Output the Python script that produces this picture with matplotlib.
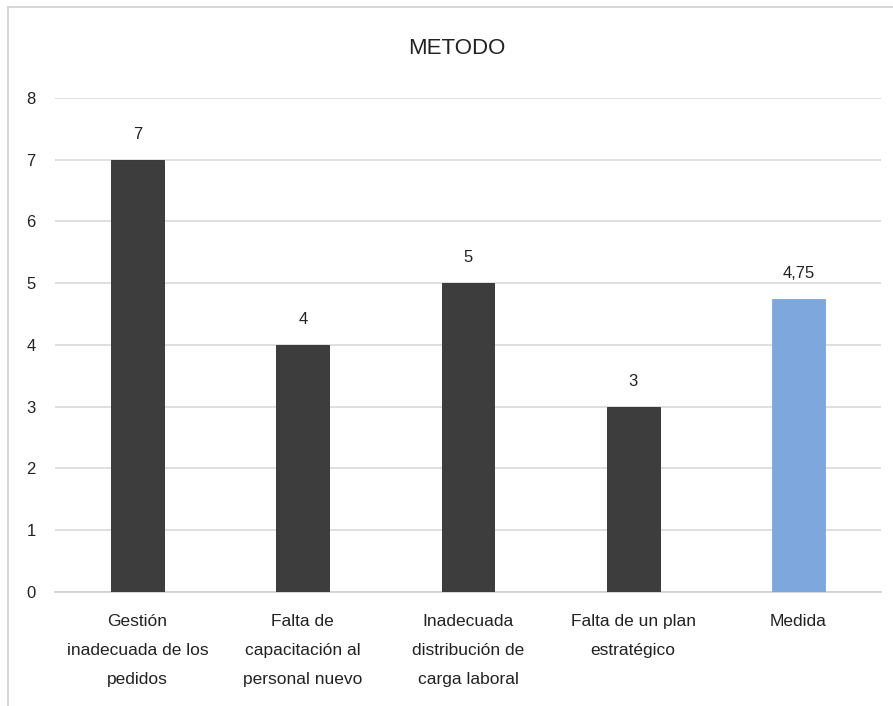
import matplotlib
matplotlib.use("Agg")
import matplotlib.pyplot as plt
from matplotlib.lines import Line2D

categories = ["Gestión\ninadecuada de los\npedidos",
              "Falta de\ncapacitación al\npersonal nuevo",
              "Inadecuada\ndistribución de\ncarga laboral",
              "Falta de un plan\nestratégico",
              "Medida"]
values = [7, 4, 5, 3, 4.75]
value_labels = ["7", "4", "5", "3", "4,75"]
colors = ["#3d3d3d", "#3d3d3d", "#3d3d3d", "#3d3d3d", "#7ea7de"]
yticks = [0, 1, 2, 3, 4, 5, 6, 7, 8]

plt.rcParams['font.family'] = ['Liberation Sans', 'DejaVu Sans']

fig = plt.figure(figsize=(8.93, 7.06), dpi=100)
ax = fig.add_axes([55/893, 0.1615, 826/893, 0.6997])

x = list(range(len(categories)))
bars = ax.bar(x, values, width=0.32, color=colors,
              edgecolor=["#2a2a2a"] * 4 + ["#7ea7de"], linewidth=0.6, zorder=3)
for xi, v, lab in zip(x, values, value_labels):
    ax.annotate(lab, (xi, v), xytext=(0, 13), textcoords="offset points",
                ha="center", va="bottom", fontsize=12, color="#222222")

ax.set_xlim(-0.5, len(categories) - 0.5)
ax.set_ylim(0, 8)
ax.set_yticks(yticks)
ax.set_yticklabels([str(t) for t in yticks], fontsize=12, color="#222222")
ax.set_xticks(x)
ax.set_xticklabels(categories, fontsize=12.5, color="#222222", linespacing=2.15)
ax.tick_params(axis="both", length=0)
ax.tick_params(axis="y", pad=14)
ax.tick_params(axis="x", pad=16)
ax.yaxis.grid(True, color="#d9d9d9", linewidth=1.2, zorder=0)
ax.set_axisbelow(True)
for s in ["top", "right", "left"]:
    ax.spines[s].set_visible(False)
ax.spines["bottom"].set_color("#d0d0d0")
ax.spines["bottom"].set_linewidth(1.2)

fig.text(0.512, 0.932, "METODO", ha="center", va="center", fontsize=16, color="#222222")

# chart border (left and top)
fig.add_artist(Line2D([8/893, 8/893], [0, 1 - 7/706], color="#d0d0d0", linewidth=1.2))
fig.add_artist(Line2D([8/893, 1], [1 - 7/706, 1 - 7/706], color="#d0d0d0", linewidth=1.2))

fig.savefig("out.png", dpi=100)
